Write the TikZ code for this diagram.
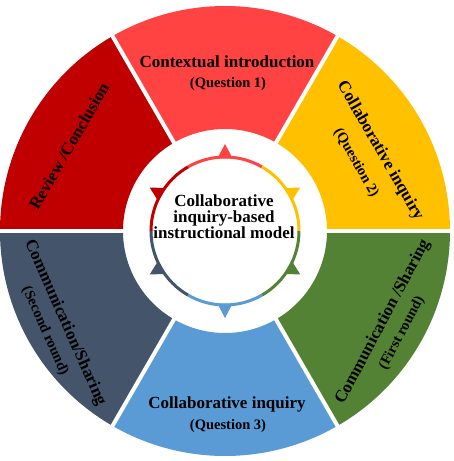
\documentclass[tikz,border=0pt]{standalone}
\usepackage{fontspec}
\setmainfont{Liberation Serif}
\usepackage{xcolor}
\usepackage{tikz}
\definecolor{segred}{HTML}{FF4343}
\definecolor{segyellow}{HTML}{FFC000}
\definecolor{seggreen}{HTML}{548235}
\definecolor{segblue}{HTML}{5B9BD5}
\definecolor{segslate}{HTML}{44546A}
\definecolor{segdark}{HTML}{C00000}

\begin{document}
\begin{tikzpicture}[x=1pt, y=1pt,
  mainlbl/.style={font=\fontsize{17}{16}\selectfont\bfseries, inner sep=0pt},
  sublbl/.style={font=\fontsize{14.5}{16}\selectfont\bfseries, inner sep=0pt}
]
\useasboundingbox (-225,-230) rectangle (229,231);

% ---- outer sectors ------------------------------------------------------
\foreach \a/\c in {60/segred, 0/segyellow, -60/seggreen, -120/segblue, 180/segslate, 120/segdark} {
  \fill[\c] (\a:102) -- (\a:225) arc[start angle=\a, delta angle=60, radius=225]
    -- ({\a+60}:102) arc[start angle={\a+60}, delta angle=-60, radius=102] -- cycle;
}
% white gaps between sectors
\foreach \a in {0,60,...,300}
  \draw[white, line width=4pt] (\a:99) -- (\a:228);

% ---- inner ring with pointers -------------------------------------------
\foreach \a/\c in {60/segred, 0/segyellow, -60/seggreen, -120/segblue, 180/segslate, 120/segdark} {
  \draw[\c, line width=3pt] (\a:74) arc[start angle=\a, delta angle=60, radius=74];
  \fill[\c] ({\a+30}:87) -- ({\a+24}:73) -- ({\a+36}:73) -- cycle;
}

% ---- labels -------------------------------------------------------------
\node[mainlbl] (intro) at (2,169) {Contextual introduction};
\node[sublbl]  (q1)    at (3,147) {(Question 1)};
\node[mainlbl, rotate=-60] (inq2) at (155,80) {Collaborative inquiry};
\node[sublbl, rotate=-60]  (q2)   at (131,68) {(Question 2)};
\node[mainlbl, rotate=62] (share1) at (158,-91)  {Communication /Sharing};
\node[sublbl, rotate=62]  (r1)     at (177,-102) {(First round)};
\node[mainlbl] (inq3) at (2,-173) {Collaborative inquiry};
\node[sublbl]  (q3)   at (3,-195) {(Question 3)};
\node[mainlbl, rotate=-66] (share2) at (-160,-92)  {Communication/Sharing};
\node[sublbl, rotate=-66]  (r2)     at (-180,-100) {(Second round)};
\node[mainlbl, rotate=60] (review) at (-156,85) {Review /Conclusion};
\node[mainlbl, align=center] (core) at (-1,14)
  {Collaborative\\inquiry-based\\instructional model};
\end{tikzpicture}
\end{document}
